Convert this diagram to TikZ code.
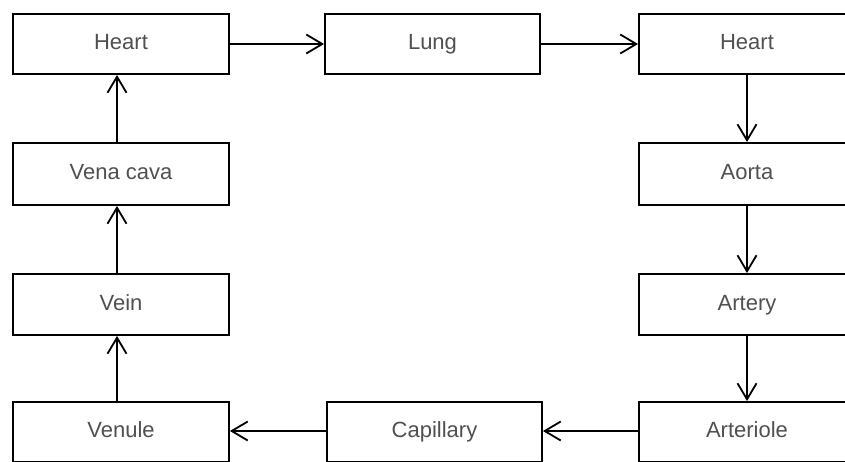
\documentclass[tikz,border=0pt]{standalone}
\usepackage{fontspec}
\setmainfont{Liberation Sans}
\usetikzlibrary{arrows.meta}
\definecolor{labelgray}{HTML}{505050}
\tikzset{
  organ/.style={draw=black, line width=1.9pt, fill=white, minimum width=216pt,
    minimum height=60pt, inner sep=0pt, font=\fontsize{22}{26}\selectfont,
    text=labelgray, text height=15pt, text depth=4pt},
  flow/.style={line width=1.8pt, -{Straight Barb[length=16pt, width=19pt, line width=1.8pt]}}
}
\begin{document}
\begin{tikzpicture}[x=1pt, y=-1pt]
  \useasboundingbox (0,0) rectangle (845,461);
  \clip (0,0) rectangle (845,461);
  \fill[white] (0,0) rectangle (845,461);

  % top row
  \node[organ] (heartA) at (121,44) {Heart};
  \node[organ, minimum width=215pt] (lung) at (432.5,44) {Lung};
  \node[organ] (heartB) at (747,44) {Heart};
  % right column
  \node[organ, minimum height=62pt] (aorta) at (747,174) {Aorta};
  \node[organ, minimum height=61pt] (artery) at (747,304.5) {Artery};
  \node[organ] (arteriole) at (747,432) {Arteriole};
  % bottom row
  \node[organ, minimum width=215pt] (capillary) at (434.5,432) {Capillary};
  \node[organ] (venule) at (121,432) {Venule};
  % left column
  \node[organ, minimum height=61pt] (vein) at (121,304.5) {Vein};
  \node[organ, minimum height=62pt] (vcava) at (121,174) {Vena cava};

  % blood flow
  \draw[flow] (heartA.east) -- (lung.west);
  \draw[flow] (lung.east) -- (heartB.west);
  \draw[flow] (heartB.south) -- (aorta.north);
  \draw[flow] (aorta.south) -- (artery.north);
  \draw[flow] (artery.south) -- (arteriole.north);
  \draw[flow] ([yshift=1pt]arteriole.west) -- ([yshift=1pt]capillary.east);
  \draw[flow] ([yshift=1pt]capillary.west) -- ([yshift=1pt]venule.east);
  \draw[flow] ([xshift=-4pt]venule.north) -- ([xshift=-4pt]vein.south);
  \draw[flow] ([xshift=-4pt]vein.north) -- ([xshift=-4pt]vcava.south);
  \draw[flow] ([xshift=-4pt]vcava.north) -- ([xshift=-4pt]heartA.south);
\end{tikzpicture}
\end{document}
